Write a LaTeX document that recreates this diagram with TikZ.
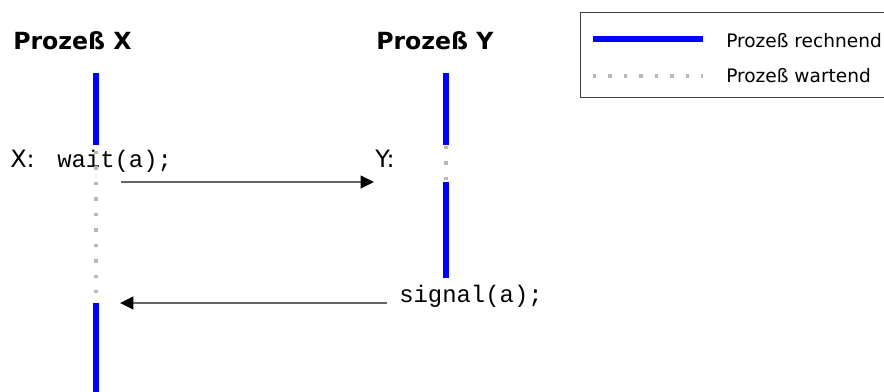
\documentclass[tikz,border=0pt]{standalone}
\usepackage{fontspec}
\setmainfont{DejaVu Sans}
\setmonofont{Liberation Mono}
\usetikzlibrary{arrows.meta}

\begin{document}
\begin{tikzpicture}[x=0.025cm, y=-0.025cm,
    run/.style={draw=blue, line width=3.9pt},
    waiting/.style={draw=black!28, line width=2.3pt, dash pattern=on 2.3pt off 8.7pt},
    msg/.style={draw=black!60, line width=1.2pt,
                -{Triangle[length=9.5pt, width=9pt, color=black]}},
    title/.style={font=\fontsize{16.8}{18}\selectfont\bfseries, anchor=base west, inner sep=0pt},
    lbl/.style={font=\fontsize{17}{19}\selectfont, anchor=base west, inner sep=0pt},
    code/.style={font=\fontsize{17}{19}\selectfont\ttfamily, anchor=base west, inner sep=0pt},
    legtext/.style={font=\fontsize{13.2}{15}\selectfont, anchor=base west, inner sep=0pt}]
    \useasboundingbox (0,0) rectangle (884,392);

    % titles and labels
    \node[title] (titleX) at (13,50) {Prozeß X};
    \node[title] (titleY) at (376,50) {Prozeß Y};
    \node[lbl] (labX) at (10,168) {X:};
    \node[lbl] (labY) at (375,168) {Y:};
    \node[code] (wait) at (57,168) {wait(a);};
    \node[code] (signal) at (399,303) {signal(a);};

    % time line of X
    \coordinate (x0) at (96,73);
    \coordinate (x1) at (96,145);
    \coordinate (x2) at (96,151);
    \coordinate (x3) at (96,294);
    \coordinate (x4) at (96,303);
    \coordinate (x5) at (96,392);
    \draw[run] (x0) -- (x1);
    \draw[waiting] (x2) -- (x3);
    \draw[run] (x4) -- (x5);

    % time line of Y
    \coordinate (y0) at (446,73);
    \coordinate (y1) at (446,145);
    \coordinate (y2) at (446,146);
    \coordinate (y3) at (446,180);
    \coordinate (y4) at (446,182);
    \coordinate (y5) at (446,278);
    \draw[run] (y0) -- (y1);
    \draw[waiting] (y2) -- (y3);
    \draw[run] (y4) -- (y5);

    % messages
    \coordinate (sendA) at (121,182);
    \coordinate (recvA) at (374,182);
    \coordinate (sendB) at (387,303);
    \coordinate (recvB) at (120,303);
    \draw[msg] (sendA) -- (recvA);
    \draw[msg] (sendB) -- (recvB);

    % legend
    \draw[black!75, line width=0.7pt] (580,12) rectangle (900,97);
    \coordinate (l0) at (593,39);
    \coordinate (l1) at (703,39);
    \coordinate (l2) at (593,76);
    \coordinate (l3) at (703,76);
    \draw[run] (l0) -- (l1);
    \draw[waiting] (l2) -- (l3);
    \node[legtext] (legRun) at (726,48) {Prozeß rechnend};
    \node[legtext] (legWait) at (726,83) {Prozeß wartend};
  \end{tikzpicture}
\end{document}
